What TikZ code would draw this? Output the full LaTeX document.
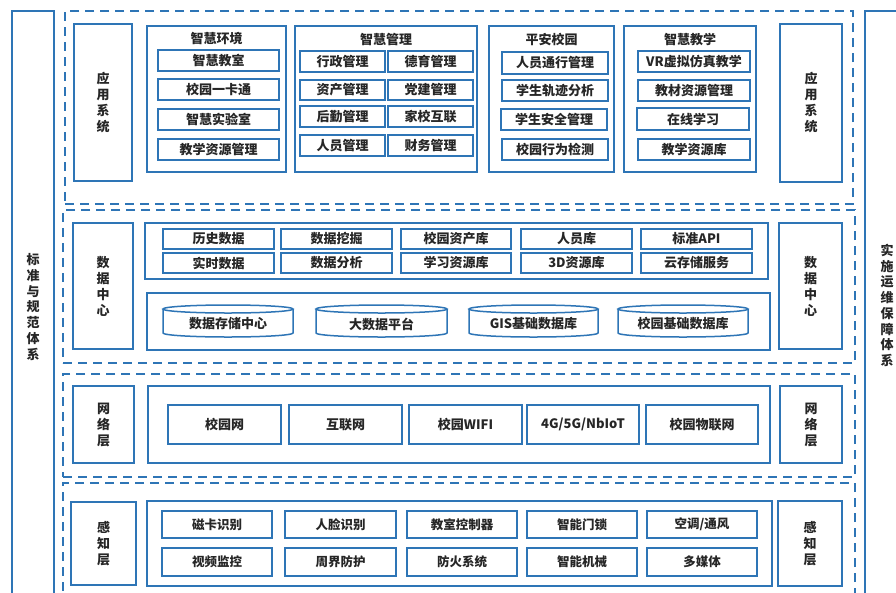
\documentclass[tikz,border=0pt]{standalone}
\usepackage{fontspec}
\setmainfont{Noto Sans CJK SC}
\usetikzlibrary{positioning}
\definecolor{bl}{RGB}{46,117,182}
\definecolor{tx}{RGB}{38,38,38}
\newcommand{\bxn}[7]{%
  \node[#1, minimum width={(#5)-(#3)}, minimum height={(#6)-(#4)}] (#2) at ({((#3)+(#5))/2},{((#4)+(#6))/2}) {#7};}
\newcommand{\cylnd}[6]{%
  \node[ttl, minimum width={(#4)-(#2)}, minimum height={(#5)-(#3)}] (#1) at ({((#2)+(#4))/2},{((#3)+(#5))/2+3}) {#6};
  \draw[cylst] ({((#2)+(#4))/2},{(#3)+4}) ellipse [x radius={((#4)-(#2))/2}, y radius=4];
  \draw[cylst] (#2,{(#3)+4}) -- (#2,{(#5)-4}) arc[start angle=180,end angle=0,x radius={((#4)-(#2))/2},y radius=4] -- (#4,{(#3)+4});}
\tikzset{
  box/.style={draw=bl, line width=1.5pt, inner sep=0pt, text=tx, font=\bfseries\fontsize{13}{15}\selectfont},
  sbox/.style={box, font=\bfseries\fontsize{12.5}{15}\selectfont},
  lbl/.style={box, align=center, font=\bfseries\fontsize{13}{16}\selectfont},
  olbl/.style={box, align=center, font=\bfseries\fontsize{13}{15.7}\selectfont},
  grp/.style={draw=bl, line width=1.5pt, inner sep=0pt},
  layer/.style={draw=bl, line width=1.8pt, dash pattern=on 9pt off 6pt, inner sep=0pt},
  ttl/.style={text=tx, inner sep=0pt, font=\bfseries\fontsize{13}{15}\selectfont},
  cylst/.style={draw=bl, line width=1.5pt}
}
\begin{document}
\begin{tikzpicture}[x=1pt,y=-1pt]
\useasboundingbox (0,0) rectangle (896,592);
\clip (0,0) rectangle (896,592);
\fill[white] (0,0) rectangle (896,592);
% outer side systems
\bxn{olbl}{std}{12}{11}{54}{603}{标\\准\\与\\规\\范\\体\\系}
\bxn{olbl}{ops}{865}{11}{909}{600}{实\\施\\运\\维\\保\\障\\体\\系}
% layers
\bxn{layer}{Lapp}{65}{11}{853}{204}{}
\bxn{layer}{Ldat}{63}{210}{855}{363}{}
\bxn{layer}{Lnet}{63}{374}{855}{477}{}
\bxn{layer}{Lper}{63}{483}{855}{600}{}
% ---------------- application layer
\bxn{lbl}{appL}{74}{24}{132}{181}{应\\用\\系\\统}
\bxn{lbl}{appR}{780}{24}{842}{182}{应\\用\\系\\统}
\bxn{grp}{gEnv}{147}{26}{286}{172}{}
\node[ttl] (tEnv) at (216.5,39) {智慧环境};
\bxn{box}{e1}{158}{50}{279}{71}{智慧教室}
\bxn{box}{e2}{158}{79}{279}{100}{校园一卡通}
\bxn{box}{e3}{158}{109}{279}{130}{智慧实验室}
\bxn{box}{e4}{158}{139}{279}{160}{教学资源管理}
\bxn{grp}{gMgt}{295}{26}{477}{172}{}
\node[ttl] (tMgt) at (386,40) {智慧管理};
\bxn{box}{m1}{300}{51}{385}{72}{行政管理}
\bxn{box}{m2}{388}{51}{473}{72}{德育管理}
\bxn{box}{m3}{300}{80}{385}{100}{资产管理}
\bxn{box}{m4}{388}{80}{473}{100}{党建管理}
\bxn{box}{m5}{300}{106}{385}{127}{后勤管理}
\bxn{box}{m6}{388}{106}{473}{127}{家校互联}
\bxn{box}{m7}{300}{135}{385}{156}{人员管理}
\bxn{box}{m8}{388}{135}{473}{156}{财务管理}
\bxn{grp}{gSaf}{489}{26}{614}{172}{}
\node[ttl] (tSaf) at (551.5,40) {平安校园};
\bxn{box}{s1}{502}{52}{608}{74}{人员通行管理}
\bxn{box}{s2}{502}{80}{608}{101}{学生轨迹分析}
\bxn{box}{s3}{501}{109}{607}{130}{学生安全管理}
\bxn{box}{s4}{502}{139}{608}{160}{校园行为检测}
\bxn{grp}{gTea}{624}{26}{756}{172}{}
\node[ttl] (tTea) at (690,40) {智慧教学};
\bxn{box}{t1}{638}{51}{750}{72}{VR虚拟仿真教学}
\bxn{box}{t2}{638}{80}{750}{101}{教材资源管理}
\bxn{box}{t3}{637}{108}{749}{130}{在线学习}
\bxn{box}{t4}{638}{139}{750}{160}{教学资源库}
% ---------------- data layer
\bxn{lbl}{datL}{73}{223}{133}{349}{数\\据\\中\\心}
\bxn{lbl}{datR}{779}{223}{842}{349}{数\\据\\中\\心}
\bxn{grp}{dUp}{145}{223}{768}{279}{}
\bxn{box}{d1}{163}{229}{274}{249}{历史数据}
\bxn{box}{d2}{281}{229}{392}{249}{数据挖掘}
\bxn{box}{d3}{401}{229}{511}{249}{校园资产库}
\bxn{box}{d4}{521}{229}{632}{249}{人员库}
\bxn{box}{d5}{641}{229}{752}{249}{标准API}
\bxn{box}{d6}{163}{253}{274}{273}{实时数据}
\bxn{box}{d7}{281}{253}{392}{273}{数据分析}
\bxn{box}{d8}{401}{253}{511}{273}{学习资源库}
\bxn{box}{d9}{521}{253}{632}{273}{3D资源库}
\bxn{box}{d10}{641}{253}{752}{273}{云存储服务}
\bxn{grp}{dLo}{147}{293}{770}{350}{}
\cylnd{c1}{163}{305}{293}{337}{数据存储中心}
\cylnd{c2}{316}{305}{447}{337}{大数据平台}
\cylnd{c3}{469}{305}{598}{337}{GIS基础数据库}
\cylnd{c4}{618}{305}{748}{337}{校园基础数据库}
% ---------------- network layer
\bxn{lbl}{netL}{73}{386}{134}{463}{网\\络\\层}
\bxn{lbl}{netR}{780}{386}{842}{463}{网\\络\\层}
\bxn{grp}{nC}{148}{386}{770}{463}{}
\bxn{box}{n1}{168}{405}{281}{444}{校园网}
\bxn{box}{n2}{289}{405}{402}{444}{互联网}
\bxn{box}{n3}{409}{405}{522}{444}{校园WIFI}
\bxn{box}{n4}{527}{405}{639}{444}{4G/5G/NbIoT}
\bxn{box}{n5}{646}{405}{758}{444}{校园物联网}
% ---------------- perception layer
\bxn{lbl}{perL}{71}{502}{136}{585}{感\\知\\层}
\bxn{lbl}{perR}{778}{501}{842}{586}{感\\知\\层}
\bxn{grp}{pC}{147}{501}{772}{586}{}
\bxn{sbox}{p1}{162}{511}{272}{538}{磁卡识别}
\bxn{sbox}{p2}{285}{511}{396}{538}{人脸识别}
\bxn{sbox}{p3}{407}{511}{517}{538}{教室控制器}
\bxn{sbox}{p4}{527}{511}{637}{538}{智能门锁}
\bxn{sbox}{p5}{647}{511}{757}{538}{空调/通风}
\bxn{sbox}{p6}{162}{548}{272}{576}{视频监控}
\bxn{sbox}{p7}{285}{548}{396}{576}{周界防护}
\bxn{sbox}{p8}{407}{548}{517}{576}{防火系统}
\bxn{sbox}{p9}{527}{548}{637}{576}{智能机械}
\bxn{sbox}{p10}{647}{548}{757}{576}{多媒体}
\end{tikzpicture}
\end{document}
